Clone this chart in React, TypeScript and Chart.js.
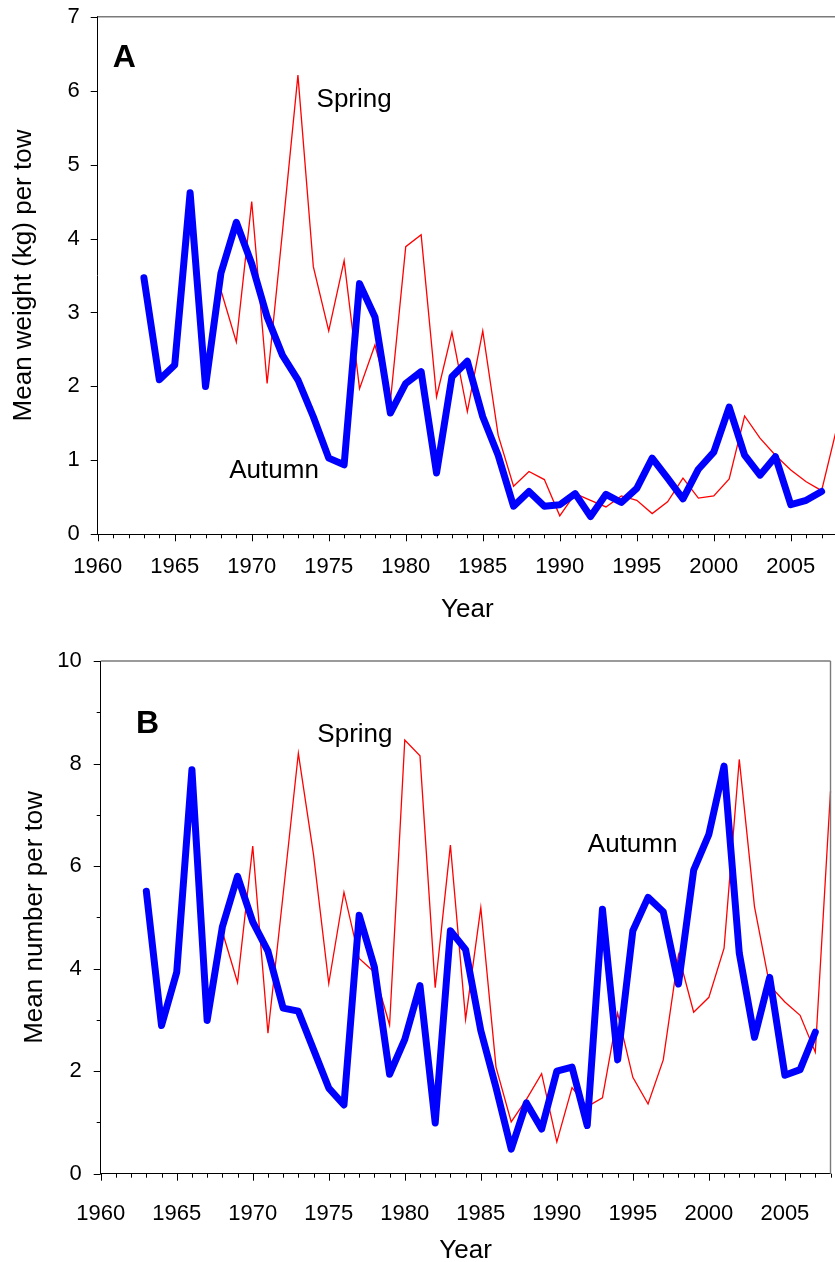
import React, { useEffect, useRef } from 'react';
import { Chart, registerables } from 'chart.js';

Chart.register(...registerables);

// ---------------- data ----------------
const autumnYears = [
  1963, 1964, 1965, 1966, 1967, 1968, 1969, 1970, 1971, 1972, 1973, 1974, 1975, 1976, 1977,
  1978, 1979, 1980, 1981, 1982, 1983, 1984, 1985, 1986, 1987, 1988, 1989, 1990, 1991, 1992,
  1993, 1994, 1995, 1996, 1997, 1998, 1999, 2000, 2001, 2002, 2003, 2004, 2005, 2006, 2007,
];
const springYears = [
  1968, 1969, 1970, 1971, 1972, 1973, 1974, 1975, 1976, 1977, 1978, 1979, 1980, 1981, 1982,
  1983, 1984, 1985, 1986, 1987, 1988, 1989, 1990, 1991, 1992, 1993, 1994, 1995, 1996, 1997,
  1998, 1999, 2000, 2001, 2002, 2003, 2004, 2005, 2006, 2007, 2008,
];

// Panel A: mean weight (kg) per tow
const weightAutumn = [
  3.47, 2.09, 2.29, 4.62, 2.0, 3.53, 4.22, 3.66, 2.94, 2.42, 2.09, 1.59, 1.03, 0.94, 3.39,
  2.94, 1.64, 2.04, 2.2, 0.83, 2.13, 2.34, 1.59, 1.07, 0.38, 0.58, 0.38, 0.4, 0.55, 0.24,
  0.54, 0.43, 0.62, 1.03, 0.76, 0.48, 0.88, 1.11, 1.72, 1.07, 0.8, 1.05, 0.4, 0.46, 0.58,
];
const weightSpring = [
  3.3, 2.6, 4.5, 2.04, 4.1, 6.21, 3.62, 2.75, 3.7, 1.97, 2.56, 1.79, 3.89, 4.05, 1.86,
  2.73, 1.66, 2.75, 1.34, 0.65, 0.85, 0.74, 0.25, 0.55, 0.46, 0.37, 0.52, 0.46, 0.28, 0.44,
  0.76, 0.49, 0.52, 0.75, 1.6, 1.3, 1.07, 0.87, 0.71, 0.59, 1.45,
];

// Panel B: mean number per tow
const numberAutumn = [
  5.51, 2.89, 3.93, 7.88, 2.99, 4.81, 5.8, 4.91, 4.34, 3.23, 3.17, 2.42, 1.67, 1.34, 5.04,
  4.03, 1.94, 2.62, 3.67, 0.99, 4.74, 4.37, 2.79, 1.68, 0.48, 1.38, 0.87, 2.0, 2.08, 0.94,
  5.16, 2.22, 4.74, 5.39, 5.11, 3.7, 5.92, 6.62, 7.95, 4.3, 2.66, 3.83, 1.92, 2.03, 2.76,
];
const numberSpring = [
  4.72, 3.73, 6.39, 2.74, 5.45, 8.2, 6.22, 3.71, 5.49, 4.2, 3.93, 2.9, 8.46, 8.15, 3.63,
  6.41, 3.01, 5.19, 2.08, 1.01, 1.45, 1.95, 0.62, 1.68, 1.31, 1.48, 3.13, 1.88, 1.36, 2.22,
  4.27, 3.15, 3.44, 4.4, 8.08, 5.21, 3.67, 3.35, 3.09, 2.37, 7.46,
];

const xLabelYears = [1960, 1965, 1970, 1975, 1980, 1985, 1990, 1995, 2000, 2005];
const weightTickLabels = [0, 1, 2, 3, 4, 5, 6, 7];
const numberTickLabels = [0, 2, 4, 6, 8, 10];

const FONT = '"Liberation Sans", Arial, Helvetica, sans-serif';

type Note = { text: string; x: number; y: number; bold?: boolean; size: number };

type PanelProps = {
  top: number;
  width: number;
  height: number;
  pad: { top: number; right: number; bottom: number; left: number };
  yAxisWidth: number;
  xAxisHeight: number;
  yMax: number;
  yLabels: number[];
  yMinorStep: number;
  yTitle: string;
  yTitlePad: number;
  yLabelPad: number;
  xLabelPad: number;
  autumn: number[];
  spring: number[];
  notes: Note[];
  rightBorder: boolean;
};

const decorPlugin = {
  id: 'decor',
  afterDraw(chart: any, _args: any, opts: any) {
    const { ctx, chartArea: a } = chart;
    const xs = chart.scales.x;
    const ys = chart.scales.y;
    ctx.save();
    // frame lines (top / right)
    ctx.strokeStyle = '#7a7a7a';
    ctx.lineWidth = 1.4;
    ctx.beginPath();
    ctx.moveTo(a.left, a.top);
    ctx.lineTo(opts.rightBorder ? a.right : a.right + 20, a.top);
    if (opts.rightBorder) {
      ctx.moveTo(a.right, a.top);
      ctx.lineTo(a.right, a.bottom);
    }
    ctx.stroke();
    // ticks
    ctx.strokeStyle = '#000';
    ctx.lineWidth = 1;
    ctx.beginPath();
    for (let yr = xs.min; yr <= xs.max; yr += 1) {
      const px = Math.round(xs.getPixelForValue(yr)) + 0.5;
      const len = yr % 5 === 0 ? 7 : 4;
      ctx.moveTo(px, a.bottom);
      ctx.lineTo(px, a.bottom + len);
    }
    const major = opts.yLabels.length > 1 ? opts.yLabels[1] - opts.yLabels[0] : 1;
    for (let v = ys.min; v <= ys.max + 1e-9; v += opts.yMinorStep) {
      const py = Math.round(ys.getPixelForValue(v)) + 0.5;
      const len = Math.abs(v / major - Math.round(v / major)) < 1e-6 ? 7 : 4;
      ctx.moveTo(a.left - len, py);
      ctx.lineTo(a.left, py);
    }
    ctx.stroke();
    // annotations
    ctx.fillStyle = '#000';
    ctx.textAlign = 'left';
    ctx.textBaseline = 'alphabetic';
    for (const n of opts.notes as Note[]) {
      ctx.font = `${n.bold ? 'bold ' : ''}${n.size}px ${FONT}`;
      ctx.fillText(n.text, xs.getPixelForValue(n.x), ys.getPixelForValue(n.y));
    }
    ctx.restore();
  },
};

function Panel(p: PanelProps) {
  const ref = useRef<HTMLCanvasElement | null>(null);
  useEffect(() => {
    if (!ref.current) return;
    const autumnPts = autumnYears.map((yr, i) => ({ x: yr, y: p.autumn[i] }));
    const springPts = springYears.map((yr, i) => ({ x: yr, y: p.spring[i] }));
    const chart = new Chart(ref.current, {
      type: 'line',
      data: {
        datasets: [
          {
            label: 'Autumn',
            data: autumnPts,
            borderColor: '#0000ff',
            backgroundColor: '#0000ff',
            borderWidth: 7,
            borderCapStyle: 'round',
            borderJoinStyle: 'round',
            pointRadius: 0,
            tension: 0,
            fill: false,
            clip: false,
            order: 0,
          },
          {
            label: 'Spring',
            data: springPts,
            borderColor: '#ff0000',
            backgroundColor: '#ff0000',
            borderWidth: 1.3,
            pointRadius: 0,
            tension: 0,
            fill: false,
            clip: false,
            order: 1,
          },
        ],
      },
      options: {
        animation: false,
        responsive: false,
        maintainAspectRatio: false,
        devicePixelRatio: 1,
        layout: { padding: p.pad },
        plugins: {
          legend: { display: false },
          tooltip: { enabled: false },
          decor: { notes: p.notes, rightBorder: p.rightBorder, yLabels: p.yLabels, yMinorStep: p.yMinorStep },
        } as any,
        scales: {
          x: {
            type: 'linear',
            min: 1960,
            max: 2008,
            grid: { display: false, drawTicks: false },
            border: { display: true, color: '#000', width: 1 },
            ticks: {
              stepSize: 1,
              autoSkip: false,
              maxRotation: 0,
              minRotation: 0,
              padding: p.xLabelPad,
              color: '#000',
              font: { family: FONT, size: 22 },
              callback: (v: any) => (xLabelYears.includes(Number(v)) ? String(v) : ''),
            },
            title: {
              display: true,
              text: 'Year',
              color: '#000',
              font: { family: FONT, size: 26 },
              padding: { top: 0, bottom: 0 },
            },
            afterFit: (s: any) => {
              s.height = p.xAxisHeight;
              s.paddingLeft = 0;
              s.paddingRight = 0;
            },
          },
          y: {
            type: 'linear',
            min: 0,
            max: p.yMax,
            grid: { display: false, drawTicks: false },
            border: { display: true, color: '#000', width: 1 },
            ticks: {
              stepSize: p.yLabels[1] - p.yLabels[0],
              autoSkip: false,
              padding: p.yLabelPad,
              color: '#000',
              font: { family: FONT, size: 22 },
              callback: (v: any) => (p.yLabels.includes(Number(v)) ? String(v) : ''),
            },
            title: {
              display: true,
              text: p.yTitle,
              color: '#000',
              font: { family: FONT, size: 26 },
              padding: { top: p.yTitlePad, bottom: 0 },
            },
            afterFit: (s: any) => {
              s.width = p.yAxisWidth;
              s.paddingTop = 0;
              s.paddingBottom = 0;
            },
          },
        },
      },
      plugins: [decorPlugin],
    } as any);
    return () => chart.destroy();
  }, []);
  return (
    <canvas
      ref={ref}
      width={p.width}
      height={p.height}
      style={{ position: 'absolute', left: 0, top: p.top, width: p.width, height: p.height, display: 'block' }}
    />
  );
}

export default function App() {
  return (
    <div
      style={{
        position: 'absolute',
        left: 0,
        top: 0,
        width: 835,
        height: 1262,
        overflow: 'hidden',
        background: '#fff',
      }}
    >
      <Panel
        top={0}
        width={850}
        height={625}
        pad={{ top: 16.7, right: 13, bottom: 0, left: 0 }}
        yAxisWidth={97.7}
        xAxisHeight={625 - 534.3}
        yMax={7}
        yLabels={weightTickLabels}
        yMinorStep={1}
        yTitle="Mean weight (kg) per tow"
        yTitlePad={8.6}
        yLabelPad={18}
        xLabelPad={19}
        autumn={weightAutumn}
        spring={weightSpring}
        rightBorder={false}
        notes={[
          { text: 'A', x: 1960.97, y: 6.32, bold: true, size: 32 },
          { text: 'Spring', x: 1974.21, y: 5.78, size: 26 },
          { text: 'Autumn', x: 1968.54, y: 0.757, size: 26 },
        ]}
      />
      <Panel
        top={640}
        width={835}
        height={626}
        pad={{ top: 21, right: 4.5, bottom: 0, left: 0 }}
        yAxisWidth={100.7}
        xAxisHeight={626 - 533.7}
        yMax={10}
        yLabels={numberTickLabels}
        yMinorStep={1}
        yTitle="Mean number per tow"
        yTitlePad={19}
        yLabelPad={19}
        xLabelPad={27.5}
        autumn={numberAutumn}
        spring={numberSpring}
        rightBorder={true}
        notes={[
          { text: 'B', x: 1962.32, y: 8.59, bold: true, size: 32 },
          { text: 'Spring', x: 1974.25, y: 8.42, size: 26 },
          { text: 'Autumn', x: 1992.04, y: 6.27, size: 26 },
        ]}
      />
    </div>
  );
}
